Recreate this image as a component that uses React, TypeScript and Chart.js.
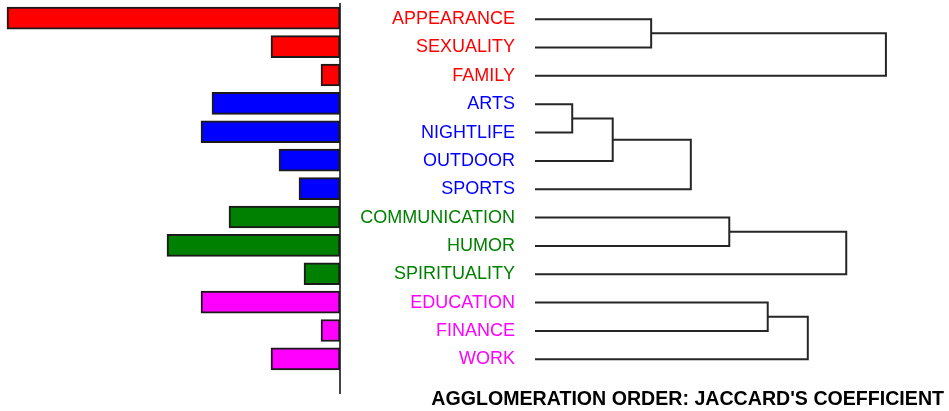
import React, { useEffect, useRef } from 'react';
import { Chart, registerables } from 'chart.js';

Chart.register(...registerables);

// ---- data ----
const categories = [
  'APPEARANCE', 'SEXUALITY', 'FAMILY',
  'ARTS', 'NIGHTLIFE', 'OUTDOOR', 'SPORTS',
  'COMMUNICATION', 'HUMOR', 'SPIRITUALITY',
  'EDUCATION', 'FINANCE', 'WORK',
];
const groupOf = [0, 0, 0, 1, 1, 1, 1, 2, 2, 2, 3, 3, 3];
const groupColors = ['#ff0000', '#0000ff', '#008000', '#ff00ff'];
const barValues = [99.9, 20.7, 5.7, 38.4, 41.7, 18.3, 12.3, 33.3, 51.9, 10.8, 41.7, 5.7, 20.7];

// agglomeration steps: leaves are 0..12, merged nodes get ids 13, 14, ...
const mergeLeft = [0, 13, 3, 15, 16, 7, 18, 10, 20];
const mergeRight = [1, 2, 4, 5, 6, 8, 9, 11, 12];
const mergeHeights = [0.284, 0.858, 0.091, 0.19, 0.381, 0.475, 0.761, 0.569, 0.667];

const titleText = "AGGLOMERATION ORDER: JACCARD'S COEFFICIENT";
const FONT = "'Liberation Sans', Arial, sans-serif";

function buildLinks() {
  const nodeX: number[] = categories.map(() => 0);
  const nodeY: number[] = categories.map((_, i) => i);
  return mergeLeft.map((a, k) => {
    const b = mergeRight[k];
    const h = mergeHeights[k];
    const pts = [
      { x: nodeX[a], y: nodeY[a] },
      { x: h, y: nodeY[a] },
      { x: h, y: nodeY[b] },
      { x: nodeX[b], y: nodeY[b] },
    ];
    nodeX.push(h);
    nodeY.push((nodeY[a] + nodeY[b]) / 2);
    return {
      data: pts,
      showLine: true,
      borderColor: '#262626',
      borderWidth: 2,
      pointRadius: 0,
      pointHoverRadius: 0,
      fill: false,
      tension: 0,
    };
  });
}

export default function App() {
  const barRef = useRef<HTMLCanvasElement>(null);
  const denRef = useRef<HTMLCanvasElement>(null);

  useEffect(() => {
    document.body.style.margin = '0';
    const barChart = new Chart(barRef.current!, {
      type: 'bar',
      data: {
        datasets: [
          {
            data: barValues.map((v, i) => ({ x: v, y: i })),
            backgroundColor: categories.map((_, i) => groupColors[groupOf[i]]),
            borderColor: '#1a1a1a',
            borderWidth: 2,
            borderSkipped: false,
            barThickness: 22,
          } as any,
        ],
      },
      options: {
        indexAxis: 'y',
        responsive: false,
        animation: false,
        layout: { padding: { left: 0, right: 5, top: 4, bottom: 18 } },
        plugins: {
          legend: { display: false },
          tooltip: { enabled: false },
          title: { display: false },
        },
        scales: {
          x: { type: 'linear', reverse: true, min: 0, max: 102, display: false },
          y: {
            type: 'linear',
            reverse: true,
            offset: false,
            min: -0.5,
            max: 13.2,
            position: 'right',
            grid: { display: false, offset: false },
            ticks: { display: false },
            border: { display: true, color: '#444', width: 2 },
            afterFit: (s: any) => {
              s.width = 0;
              s.paddingTop = 0;
              s.paddingBottom = 0;
            },
          },
        },
      } as any,
    });

    const denChart = new Chart(denRef.current!, {
      type: 'scatter',
      data: { datasets: buildLinks() as any },
      options: {
        responsive: false,
        animation: false,
        layout: { padding: { left: 0, right: 5, top: 5, bottom: 0 } },
        plugins: {
          legend: { display: false },
          tooltip: { enabled: false },
          title: {
            display: true,
            text: titleText,
            position: 'bottom',
            align: 'end',
            color: '#000',
            font: { family: FONT, size: 19.6, weight: 'bold' },
            padding: { top: 14, bottom: 0 },
          },
        },
        scales: {
          x: { type: 'linear', min: 0, max: 1, display: false },
          y: {
            type: 'linear',
            reverse: true,
            offset: false,
            min: -0.5,
            max: 12.5,
            grid: { display: false },
            border: { display: false },
            afterBuildTicks: (s: any) => {
              s.ticks = categories.map((_, i) => ({ value: i }));
            },
            afterFit: (s: any) => {
              s.width = 190;
              s.paddingTop = 0;
              s.paddingBottom = 0;
            },
            ticks: {
              autoSkip: false,
              padding: 12,
              font: { family: FONT, size: 18 },
              color: (ctx: any) => groupColors[groupOf[ctx.index]],
              callback: (v: any) => categories[v as number],
            },
          },
        },
      } as any,
    });

    return () => {
      barChart.destroy();
      denChart.destroy();
    };
  }, []);

  return (
    <div style={{ position: 'relative', width: 949, height: 411, background: '#fff' }}>
      <canvas
        ref={barRef}
        width={345}
        height={411}
        style={{ position: 'absolute', left: 0, top: 0, width: 345, height: 411 }}
      />
      <canvas
        ref={denRef}
        width={604}
        height={411}
        style={{ position: 'absolute', left: 345, top: 0, width: 604, height: 411 }}
      />
    </div>
  );
}
